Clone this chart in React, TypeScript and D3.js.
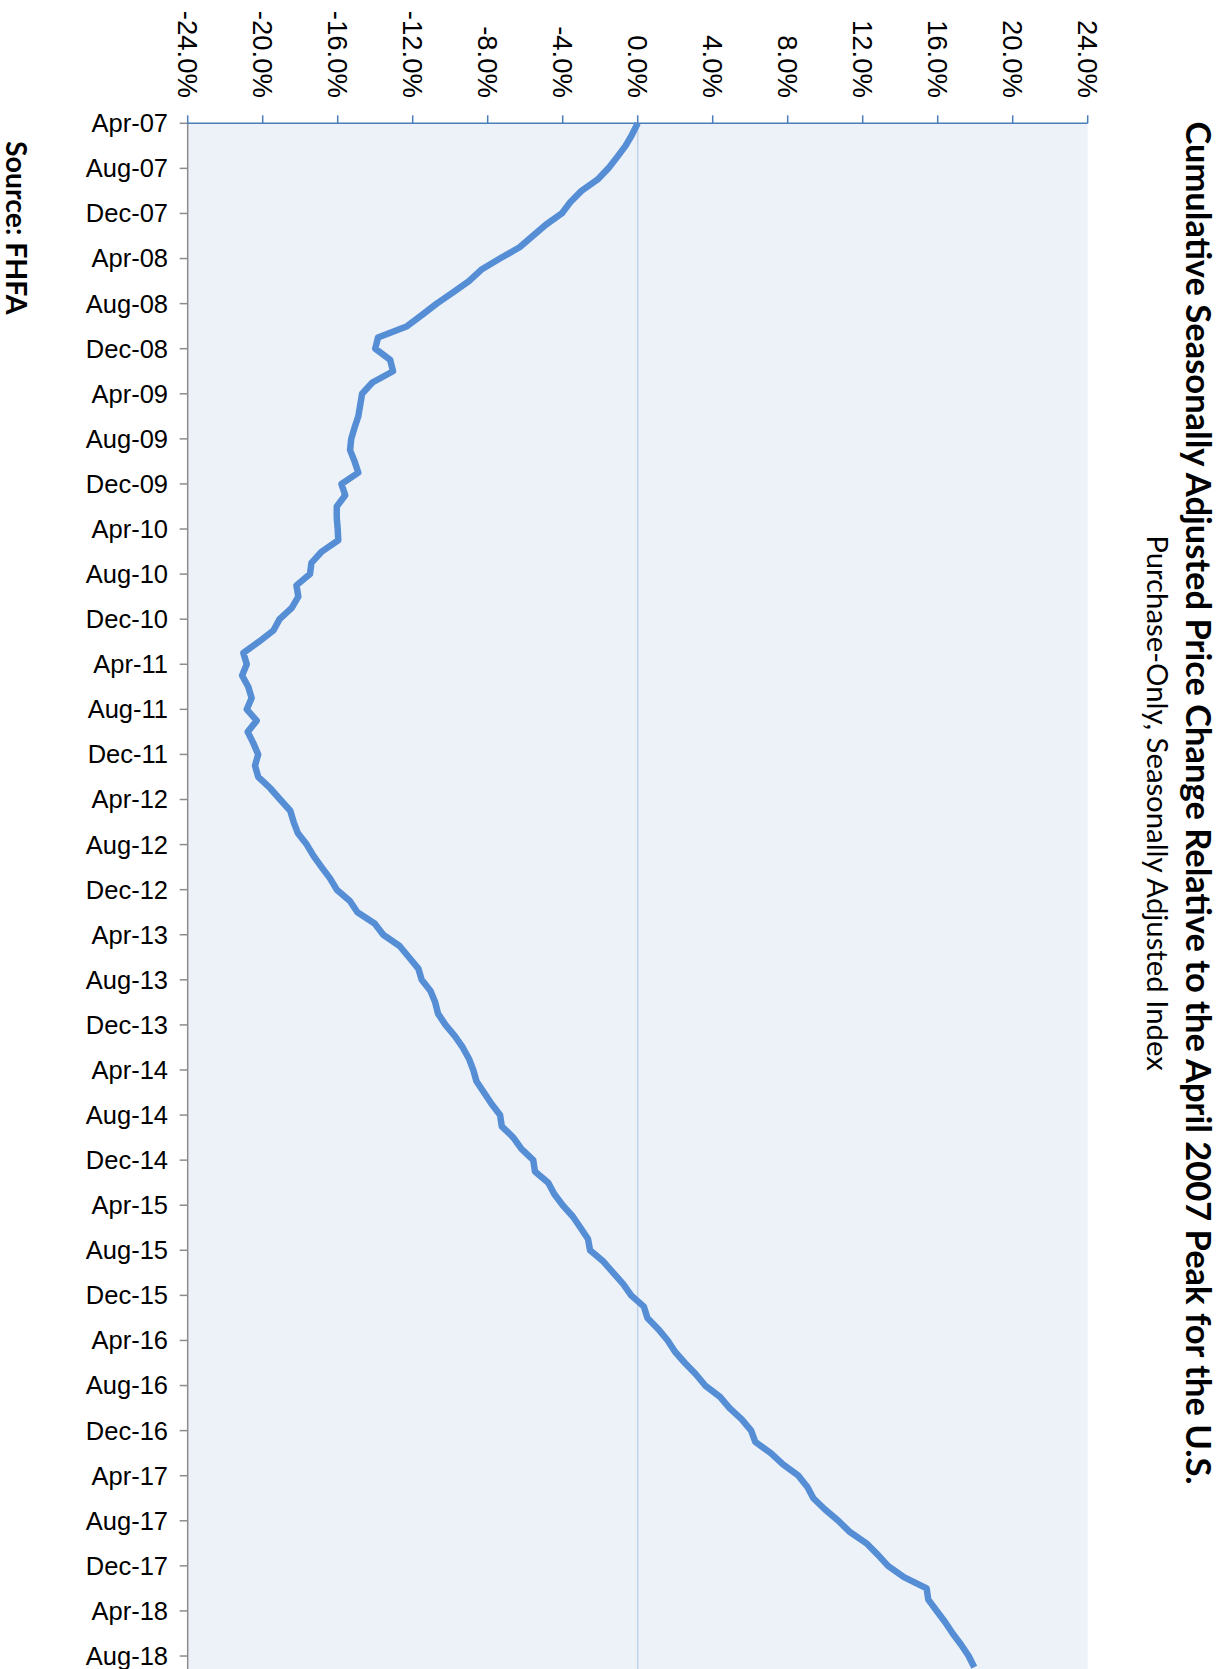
import React from "react";
import * as d3 from "d3";

// Monthly cumulative change (%) relative to April 2007, starting Apr-07
const VALUES: number[] = [
  0, -0.3, -0.65, -1.1, -1.57, -2.15, -3.0, -3.6, -4.05, -4.9,
  -5.6, -6.3, -7.35, -8.35, -9.0, -9.85, -10.72, -11.5, -12.3, -13.85,
  -14.0, -13.2, -13.05, -14.15, -14.7, -14.8, -14.9, -15.1, -15.28, -15.34,
  -15.1, -14.9, -15.8, -15.6, -16.05, -16.05, -16.0, -15.97, -16.85, -17.4,
  -17.48, -18.2, -18.1, -18.45, -19.1, -19.43, -20.2, -21.03, -20.85, -21.1,
  -20.77, -20.59, -20.85, -20.32, -20.8, -20.5, -20.24, -20.41, -20.24, -19.6,
  -19.07, -18.53, -18.35, -18.12, -17.65, -17.29, -16.86, -16.41, -16.05, -15.35,
  -14.95, -14.03, -13.57, -12.7, -12.2, -11.7, -11.52, -11.05, -10.8, -10.65,
  -10.25, -9.75, -9.33, -9.0, -8.77, -8.6, -8.2, -7.8, -7.34, -7.25,
  -6.63, -6.2, -5.57, -5.48, -4.77, -4.45, -4.0, -3.46, -3.05, -2.65,
  -2.54, -1.83, -1.3, -0.77, -0.35, 0.33, 0.52, 1.1, 1.6, 1.99,
  2.52, 3.1, 3.6, 4.39, 4.9, 5.55, 6.05, 6.27, 7.1, 7.75,
  8.57, 9.05, 9.37, 9.99, 10.7, 11.32, 12.2, 12.8, 13.35, 14.2,
  15.41, 15.5, 15.95, 16.4, 16.8, 17.25, 17.65, 17.95,
];

// Category tick labels (every 4 months)
const DATE_LABELS: string[] = [
  "Apr-07", "Aug-07", "Dec-07", "Apr-08", "Aug-08", "Dec-08", "Apr-09", "Aug-09",
  "Dec-09", "Apr-10", "Aug-10", "Dec-10", "Apr-11", "Aug-11", "Dec-11", "Apr-12",
  "Aug-12", "Dec-12", "Apr-13", "Aug-13", "Dec-13", "Apr-14", "Aug-14", "Dec-14",
  "Apr-15", "Aug-15", "Dec-15", "Apr-16", "Aug-16", "Dec-16", "Apr-17", "Aug-17",
  "Dec-17", "Apr-18", "Aug-18",
];
const DATE_STEP = 4;

const VALUE_TICKS: number[] = [-24, -20, -16, -12, -8, -4, 0, 4, 8, 12, 16, 20, 24];

const TITLE = "Cumulative Seasonally Adjusted Price Change Relative to the April 2007 Peak for the U.S.";
const SUBTITLE = "Purchase-Only, Seasonally Adjusted Index";
const SOURCE = "Source: FHFA";

const W = 1225;
const H = 1669;
const PLOT_LEFT = 187.7;
const PLOT_RIGHT = 1087.7;
const PLOT_TOP = 123.3;
const MONTH_PX = 11.27;

export default function App() {
  const x = d3.scaleLinear().domain([-24, 24]).range([PLOT_LEFT, PLOT_RIGHT]);
  const y = d3
    .scaleLinear()
    .domain([0, VALUES.length - 1])
    .range([PLOT_TOP, PLOT_TOP + (VALUES.length - 1) * MONTH_PX]);

  const line = d3
    .line<number>()
    .x((d) => x(d))
    .y((_, i) => y(i));

  const fmt = (v: number) => d3.format(".1f")(v).replace("\u2212", "-") + "%";
  const titleCenter = 803;

  return (
    <svg
      width={W}
      height={H}
      style={{ position: "absolute", left: 0, top: 0, background: "#ffffff" }}
    >
      <rect x={0} y={0} width={W} height={H} fill="#ffffff" />
      {/* plot area */}
      <rect
        x={PLOT_LEFT}
        y={PLOT_TOP}
        width={PLOT_RIGHT - PLOT_LEFT}
        height={H - PLOT_TOP + 10}
        fill="#edf2f9"
      />
      {/* zero gridline */}
      <line
        x1={x(0)}
        x2={x(0)}
        y1={PLOT_TOP}
        y2={H + 10}
        stroke="#c3d4ea"
        strokeWidth={1.6}
      />
      {/* left (category) axis */}
      <line x1={PLOT_LEFT} x2={PLOT_LEFT} y1={PLOT_TOP} y2={H + 10} stroke="#8c8c8c" strokeWidth={1.5} />
      {DATE_LABELS.map((lab, k) => {
        const yy = y(k * DATE_STEP);
        return (
          <g key={lab}>
            <line x1={PLOT_LEFT - 8} x2={PLOT_LEFT} y1={yy} y2={yy} stroke="#8c8c8c" strokeWidth={1.5} />
            <text
              x={168}
              y={yy}
              dy="0.35em"
              textAnchor="end"
              fontFamily="'Liberation Sans', Arial, sans-serif"
              fontSize={25.5}
              fill="#000"
            >
              {lab}
            </text>
          </g>
        );
      })}
      {/* top (value) axis */}
      <line x1={PLOT_LEFT} x2={PLOT_RIGHT} y1={PLOT_TOP} y2={PLOT_TOP} stroke="#4a7ebb" strokeWidth={1.5} />
      {VALUE_TICKS.map((v) => {
        const xx = x(v);
        return (
          <g key={v}>
            <line x1={xx} x2={xx} y1={PLOT_TOP - 8} y2={PLOT_TOP} stroke="#4a7ebb" strokeWidth={1.5} />
            <text
              transform={`translate(${xx},98) rotate(90)`}
              dy="0.35em"
              textAnchor="end"
              fontFamily="'Liberation Sans', Arial, sans-serif"
              fontSize={27.5}
              fill="#000"
            >
              {fmt(v)}
            </text>
          </g>
        );
      })}
      {/* data line */}
      <path
        d={line(VALUES) || ""}
        fill="none"
        stroke="#558ed5"
        strokeWidth={6.5}
        strokeLinejoin="round"
        strokeLinecap="butt"
      />
      {/* title */}
      <text
        transform={`translate(1186,${titleCenter}) rotate(90)`}
        textAnchor="middle"
        fontFamily="Lato, 'Noto Sans', sans-serif"
        fontWeight="bold"
        fontSize={34.5}
        fill="#000"
      >
        {TITLE}
      </text>
      <text
        transform={`translate(1147,${titleCenter}) rotate(90)`}
        textAnchor="middle"
        fontFamily="Lato, 'Noto Sans', sans-serif"
        fontSize={29.3}
        fill="#000"
      >
        {SUBTITLE}
      </text>
      {/* source */}
      <text
        transform={`translate(6,141) rotate(90)`}
        textAnchor="start"
        fontFamily="Lato, 'Noto Sans', sans-serif"
        fontWeight="bold"
        fontSize={28.5}
        fill="#000"
      >
        {SOURCE}
      </text>
    </svg>
  );
}
